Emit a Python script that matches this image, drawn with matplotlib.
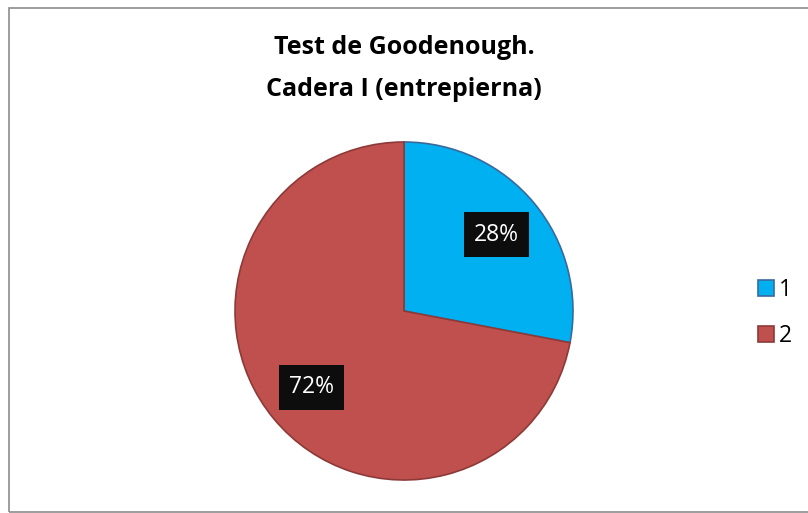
import matplotlib.pyplot as plt
from matplotlib.patches import Rectangle
from matplotlib.lines import Line2D

categories = ['1', '2']
values = [28, 72]
colors = ['#00B0F0', '#C0504D']
edges = ['#3A6A9C', '#8C3A38']

W, H = 808, 513
fig = plt.figure(figsize=(W / 100, H / 100), dpi=100)

# chart border (left, top, bottom; right edge is cut off in the reference)
fig.patches.append(Rectangle((9 / W, 1 / H), 1.0, (H - 9) / H, transform=fig.transFigure,
                             fill=False, edgecolor='#8C8C8C', lw=1.2))

r = 169
cx, cy = 404, H - 311
ax = fig.add_axes([(cx - r) / W, (cy - r) / H, 2 * r / W, 2 * r / H])
wedges, texts, autotexts = ax.pie(values, colors=colors, startangle=90, counterclock=False,
                                  autopct='%1.0f%%', pctdistance=0.71, radius=1.0,
                                  wedgeprops=dict(linewidth=1.2))
for w, ec in zip(wedges, edges):
    w.set_edgecolor(ec)
for t in autotexts:
    t.set_color('white')
    t.set_fontsize(16.5)
    t.set_family('Open Sans')
    t.set_bbox(dict(facecolor='#0D0D0D', edgecolor='none', boxstyle='square,pad=0.45'))
ax.set_xlim(-1, 1)
ax.set_ylim(-1, 1)
ax.set_aspect('equal')
ax.axis('off')

fig.text(0.5, 1 - 48 / H, 'Test de Goodenough.', ha='center', va='center',
         fontsize=18, fontweight='bold', family='Open Sans')
fig.text(0.5, 1 - 89 / H, 'Cadera I (entrepierna)', ha='center', va='center',
         fontsize=18, fontweight='bold', family='Open Sans')

handles = [Line2D([], [], marker='s', linestyle='none', markersize=12,
                  markerfacecolor=c, markeredgecolor=e, markeredgewidth=1.2)
           for c, e in zip(colors, edges)]
fig.legend(handles, categories, loc='center left', bbox_to_anchor=(734 / W, 1 - 313 / H),
           frameon=False, handletextpad=0.05, labelspacing=1.0, handlelength=1.0,
           prop=dict(family='Open Sans', size=16.5))

fig.savefig('out.png', dpi=100)
